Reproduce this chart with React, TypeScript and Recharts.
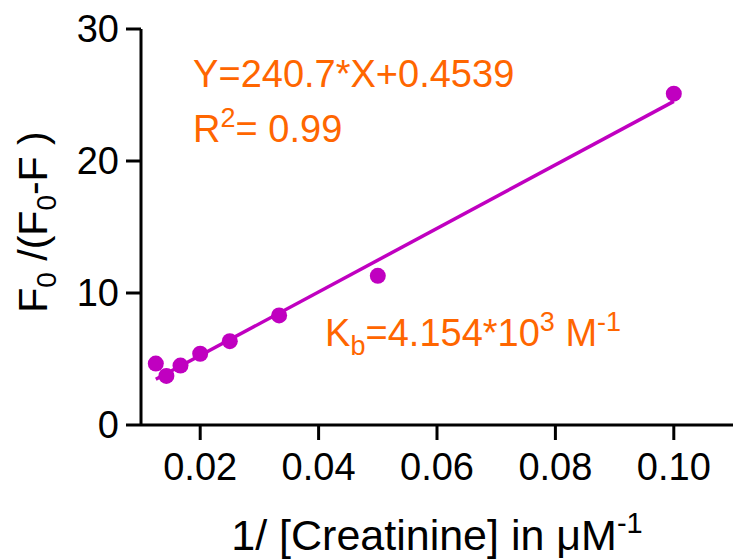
import React from 'react';
import { ComposedChart, Scatter, XAxis, YAxis } from 'recharts';

// Measured data: 1/[Creatinine] (µM^-1) vs F0/(F0-F)
const xValues = [0.0125, 0.01429, 0.01667, 0.02, 0.025, 0.03333, 0.05, 0.1];
const yValues = [4.65, 3.72, 4.5, 5.4, 6.35, 8.3, 11.3, 25.1];

// Linear fit endpoints (Y = 240.7*X + 0.4539)
const fitX = [0.0125, 0.1];
const fitY = [3.46, 24.52];

const xTicks = [0.02, 0.04, 0.06, 0.08, 0.1];
const yTicks = [0, 10, 20, 30];

// Annotation anchors (data coordinates)
const annX = [0.0188, 0.0188, 0.0411];
const annY = [25.6, 21.44, 5.98];
const annKeys = ['eq', 'r2', 'kb'];

const points = xValues.map((x, i) => ({ x, y: yValues[i] }));
const fitData = fitX.map((x, i) => ({ x, y: fitY[i] }));
const annData = annX.map((x, i) => ({ x, y: annY[i], key: annKeys[i] }));

const FONT = '"Liberation Sans", Arial, Helvetica, sans-serif';
const MAGENTA = '#c000c0';
const ORANGE = '#ff6600';
const ANN_SIZE = 38;
const SUP = 27;

const Dot = (props: any) => (
  <circle cx={props.cx} cy={props.cy} r={8} fill={MAGENTA} />
);

const Empty = () => <g />;

const Annotation = (props: any) => {
  const { cx, cy, payload } = props;
  const common = { x: cx, y: cy, fill: ORANGE, fontSize: ANN_SIZE, fontFamily: FONT };
  if (payload.key === 'eq') {
    return <text {...common}>Y=240.7*X+0.4539</text>;
  }
  if (payload.key === 'r2') {
    return (
      <text {...common}>
        R<tspan dy={-15} fontSize={SUP}>2</tspan>
        <tspan dy={15}>= 0.99</tspan>
      </text>
    );
  }
  return (
    <text {...common}>
      K<tspan dy={9} fontSize={SUP}>b</tspan>
      <tspan dy={-9}>=4.154*10</tspan>
      <tspan dy={-15} fontSize={SUP}>3</tspan>
      <tspan dy={15}> M</tspan>
      <tspan dy={-15} fontSize={SUP}>-1</tspan>
    </text>
  );
};

const XLabel = (props: any) => {
  const vb = props.viewBox || {};
  const cx = vb.x + vb.width / 2;
  return (
    <text x={cx} y={550} textAnchor="middle" fontSize={43} fontFamily={FONT} fill="#000">
      1/ [Creatinine] in μM
      <tspan dy={-17} fontSize={29}>-1</tspan>
    </text>
  );
};

const YLabel = (props: any) => {
  const vb = props.viewBox || {};
  const cy = vb.y + vb.height / 2 - 5;
  const x = 47;
  return (
    <text
      x={x}
      y={cy}
      transform={`rotate(-90, ${x}, ${cy})`}
      textAnchor="middle"
      fontSize={41}
      fontFamily={FONT}
      fill="#000"
    >
      F<tspan dy={9} fontSize={28}>0</tspan>
      <tspan dy={-9}> /(F</tspan>
      <tspan dy={9} fontSize={28}>0</tspan>
      <tspan dy={-9}>-F )</tspan>
    </text>
  );
};

export default function App() {
  return (
    <div style={{ position: 'absolute', left: 0, top: 0, background: '#fff' }}>
      <ComposedChart
        width={733}
        height={560}
        margin={{ top: 29, right: 0, bottom: 0, left: 0 }}
      >
        <XAxis
          type="number"
          dataKey="x"
          domain={[0.01, 0.11]}
          ticks={xTicks}
          allowDataOverflow
          height={135}
          axisLine={{ stroke: '#000', strokeWidth: 3 }}
          tickLine={{ stroke: '#000', strokeWidth: 3 }}
          tickSize={15}
          tickMargin={13}
          tick={{ fill: '#000', fontSize: 38, fontFamily: FONT }}
          tickFormatter={(v: number) => v.toFixed(2)}
          label={{ content: XLabel }}
        />
        <YAxis
          type="number"
          dataKey="y"
          domain={[0, 30]}
          ticks={yTicks}
          allowDataOverflow
          width={141}
          axisLine={{ stroke: '#000', strokeWidth: 3 }}
          tickLine={{ stroke: '#000', strokeWidth: 3 }}
          tickSize={15}
          tickMargin={7}
          tick={{ fill: '#000', fontSize: 38, fontFamily: FONT }}
          label={{ content: YLabel }}
        />
        <Scatter
          data={fitData}
          line={{ stroke: MAGENTA, strokeWidth: 3.5 }}
          shape={Empty}
          isAnimationActive={false}
        />
        <Scatter data={points} shape={Dot} isAnimationActive={false} />
        <Scatter data={annData} shape={Annotation} isAnimationActive={false} />
      </ComposedChart>
    </div>
  );
}
